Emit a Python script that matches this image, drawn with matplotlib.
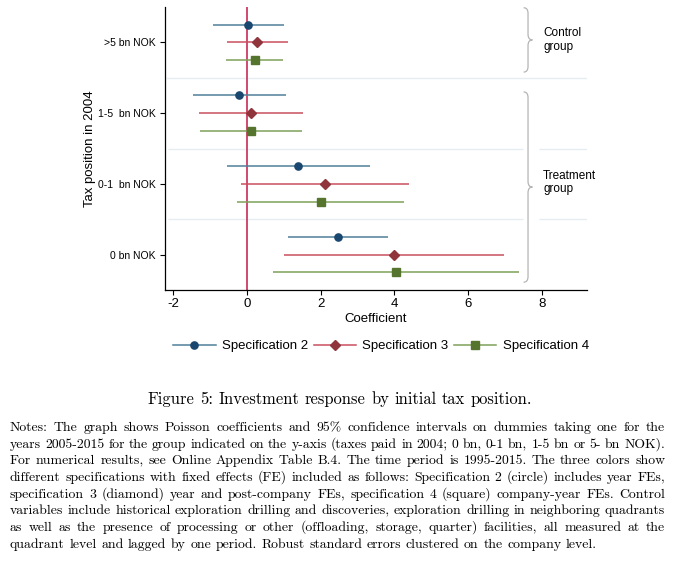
import math
import matplotlib
matplotlib.use('Agg')
import matplotlib.pyplot as plt
from matplotlib.lines import Line2D
from matplotlib.path import Path
from matplotlib.patches import PathPatch
from matplotlib.font_manager import FontProperties

plt.rcParams['font.family'] = ['Liberation Sans', 'DejaVu Sans']
plt.rcParams['axes.unicode_minus'] = False

# 数据: 系数与95%置信区间
categories = ['>5 bn NOK', '1-5  bn NOK', '0-1  bn NOK', '0 bn NOK']
spec_names = ['Specification 2', 'Specification 3', 'Specification 4']

spec2_coef = [0.04, -0.21, 1.40, 2.47]
spec2_lo = [-0.92, -1.47, -0.54, 1.12]
spec2_hi = [1.00, 1.06, 3.34, 3.83]

spec3_coef = [0.28, 0.11, 2.11, 4.00]
spec3_lo = [-0.55, -1.31, -0.17, 1.01]
spec3_hi = [1.11, 1.53, 4.40, 6.99]

spec4_coef = [0.21, 0.12, 2.00, 4.06]
spec4_lo = [-0.57, -1.26, -0.26, 0.71]
spec4_hi = [0.99, 1.50, 4.26, 7.39]

x_ticks = [-2, 0, 2, 4, 6, 8]

caption = 'Figure 5: Investment response by initial tax position.'
notes_lines = [
    'Notes: The graph shows Poisson coefficients and 95% confidence intervals on dummies taking one for the',
    'years 2005-2015 for the group indicated on the y-axis (taxes paid in 2004; 0 bn, 0-1 bn, 1-5 bn or 5- bn NOK).',
    'For numerical results, see Online Appendix Table B.4. The time period is 1995-2015. The three colors show',
    'different specifications with fixed effects (FE) included as follows: Specification 2 (circle) includes year FEs,',
    'specification 3 (diamond) year and post-company FEs, specification 4 (square) company-year FEs. Control',
    'variables include historical exploration drilling and discoveries, exploration drilling in neighboring quadrants',
    'as well as the presence of processing or other (offloading, storage, quarter) facilities, all measured at the',
    'quadrant level and lagged by one period. Robust standard errors clustered on the company level.',
]

W, H = 680, 562
fig = plt.figure(figsize=(W / 100, H / 100), dpi=100)
ax = fig.add_axes([165 / W, 1 - 290 / H, 422 / W, 283 / H])

# 样式: 点颜色, 线颜色, 标记, 大小, 纵向偏移
styles = [
    ('#1a476f', '#4f7f98', 'o', 5.2, 0.25),
    ('#90353b', '#c9505f', 'D', 5.0, 0.0),
    ('#55752f', '#7fa05a', 's', 5.2, -0.25),
]
series = [
    (spec2_coef, spec2_lo, spec2_hi),
    (spec3_coef, spec3_lo, spec3_hi),
    (spec4_coef, spec4_lo, spec4_hi),
]

base_y = [4, 3, 2, 1]
sep_color = '#e6edf1'

# 分隔线 (花括号处留空)
ax.axhline(3.5, color=sep_color, lw=1, zorder=0, xmin=0.005)
for yy in [2.5, 1.5]:
    ax.hlines(yy, -2.15, 7.49, color=sep_color, lw=1, zorder=0)
    ax.hlines(yy, 7.93, 9.23, color=sep_color, lw=1, zorder=0)

ax.axvline(0, color='#d2486e', lw=1.4, zorder=1)

handles = []
for (mc, lc, mk, ms, off), (coef, lo, hi), name in zip(styles, series, spec_names):
    ys = [b + off for b in base_y]
    ax.hlines(ys, lo, hi, color=lc, lw=1.1, zorder=2)
    ax.plot(coef, ys, linestyle='none', marker=mk, color=mc, markersize=ms, zorder=3)
    handles.append(Line2D([], [], color=lc, lw=1.1, marker=mk, markerfacecolor=mc,
                          markeredgecolor=mc, markersize=ms, label=name))

ax.set_xlim(-2.22, 9.23)
ax.set_ylim(0.5, 4.5)
ax.set_yticks(base_y)
ax.set_yticklabels(categories, fontsize=7.5)
ax.set_xticks(x_ticks)
ax.set_xticklabels([str(t) for t in x_ticks], fontsize=9.5)
ax.tick_params(axis='y', length=3.5, width=0.8, pad=3)
ax.tick_params(axis='x', length=3.5, width=0.8, pad=2)
for s in ['top', 'right']:
    ax.spines[s].set_visible(False)
for s in ['left', 'bottom']:
    ax.spines[s].set_linewidth(0.9)

ax.set_xlabel('Coefficient', fontsize=9.5)
ax.xaxis.label.set_va('center')
ax.xaxis.set_label_coords(0.5, -0.102)
ax.set_ylabel('Tax position in 2004', fontsize=9.5)
ax.yaxis.label.set_va('center')
ax.yaxis.set_label_coords(-0.178, 0.5)


# 花括号
def brace(x0, y_top, y_bot, d=0.12, r=0.08):
    ym = (y_top + y_bot) / 2
    verts = [
        (x0 - d, y_top), (x0, y_top), (x0, y_top - r),
        (x0, ym + r),
        (x0, ym), (x0 + d, ym),
        (x0, ym), (x0, ym - r),
        (x0, y_bot + r),
        (x0, y_bot), (x0 - d, y_bot),
    ]
    codes = [Path.MOVETO, Path.CURVE3, Path.CURVE3, Path.LINETO,
             Path.CURVE3, Path.CURVE3, Path.CURVE3, Path.CURVE3,
             Path.LINETO, Path.CURVE3, Path.CURVE3]
    ax.add_patch(PathPatch(Path(verts, codes), fill=False, edgecolor='#b5b5b5',
                           lw=0.9, clip_on=False, zorder=1))


brace(7.63, 4.49, 3.58)
brace(7.63, 3.30, 0.61)
ax.text(8.04, 4.03, 'Control\ngroup', fontsize=8.5, ha='left', va='center', linespacing=1.2)
ax.text(8.04, 2.02, 'Treatment\ngroup', fontsize=8.5, ha='left', va='center', linespacing=1.2)

fig.legend(handles=handles, loc='center', bbox_to_anchor=(381 / W, 1 - 346 / H),
           ncol=3, frameon=False, fontsize=9.5, handlelength=3.2,
           handletextpad=0.5, columnspacing=0.4)

# 标题与注释 (逐词排版, 两端对齐)
rend = fig.canvas.get_renderer()


def put_words(words, y_px, size, width=None):
    prop = FontProperties(family='cmr10', size=size)
    b0 = round(y_px)
    arts, widths = [], []
    for w in words:
        _, h, d = rend.get_text_width_height_descent(w, prop, ismath=False)
        # Agg 栅格化取整会让带下伸部的词上下错位, 这里补回整数像素
        err = round(b0 + d) - math.floor(h) + math.floor(h - d) - b0
        a = fig.text(0, (H - (b0 - err)) / H, w, fontproperties=prop,
                     ha='left', va='baseline')
        arts.append(a)
        widths.append(a.get_window_extent(rend).width)
    if width is not None and len(words) > 1:
        gap = (width - sum(widths)) / (len(words) - 1)
    else:
        gap = size * 100 / 72 * 0.333
    total = sum(widths) + gap * (len(words) - 1)
    return arts, widths, gap, total


def place(arts, widths, gap, x0):
    x = x0
    for a, w in zip(arts, widths):
        a.set_x(x / W)
        x += w + gap


cap_arts, cap_w, cap_gap, cap_total = put_words(caption.split(), 404, 11.9)
place(cap_arts, cap_w, cap_gap, 340 - cap_total / 2)

for i, line in enumerate(notes_lines):
    last = i == len(notes_lines) - 1
    arts, ws, gap, total = put_words(line.split(), 431 + 16.7 * i, 9.9,
                                     None if last else 655)
    place(arts, ws, gap, 10)

fig.savefig('out.png', dpi=100)
